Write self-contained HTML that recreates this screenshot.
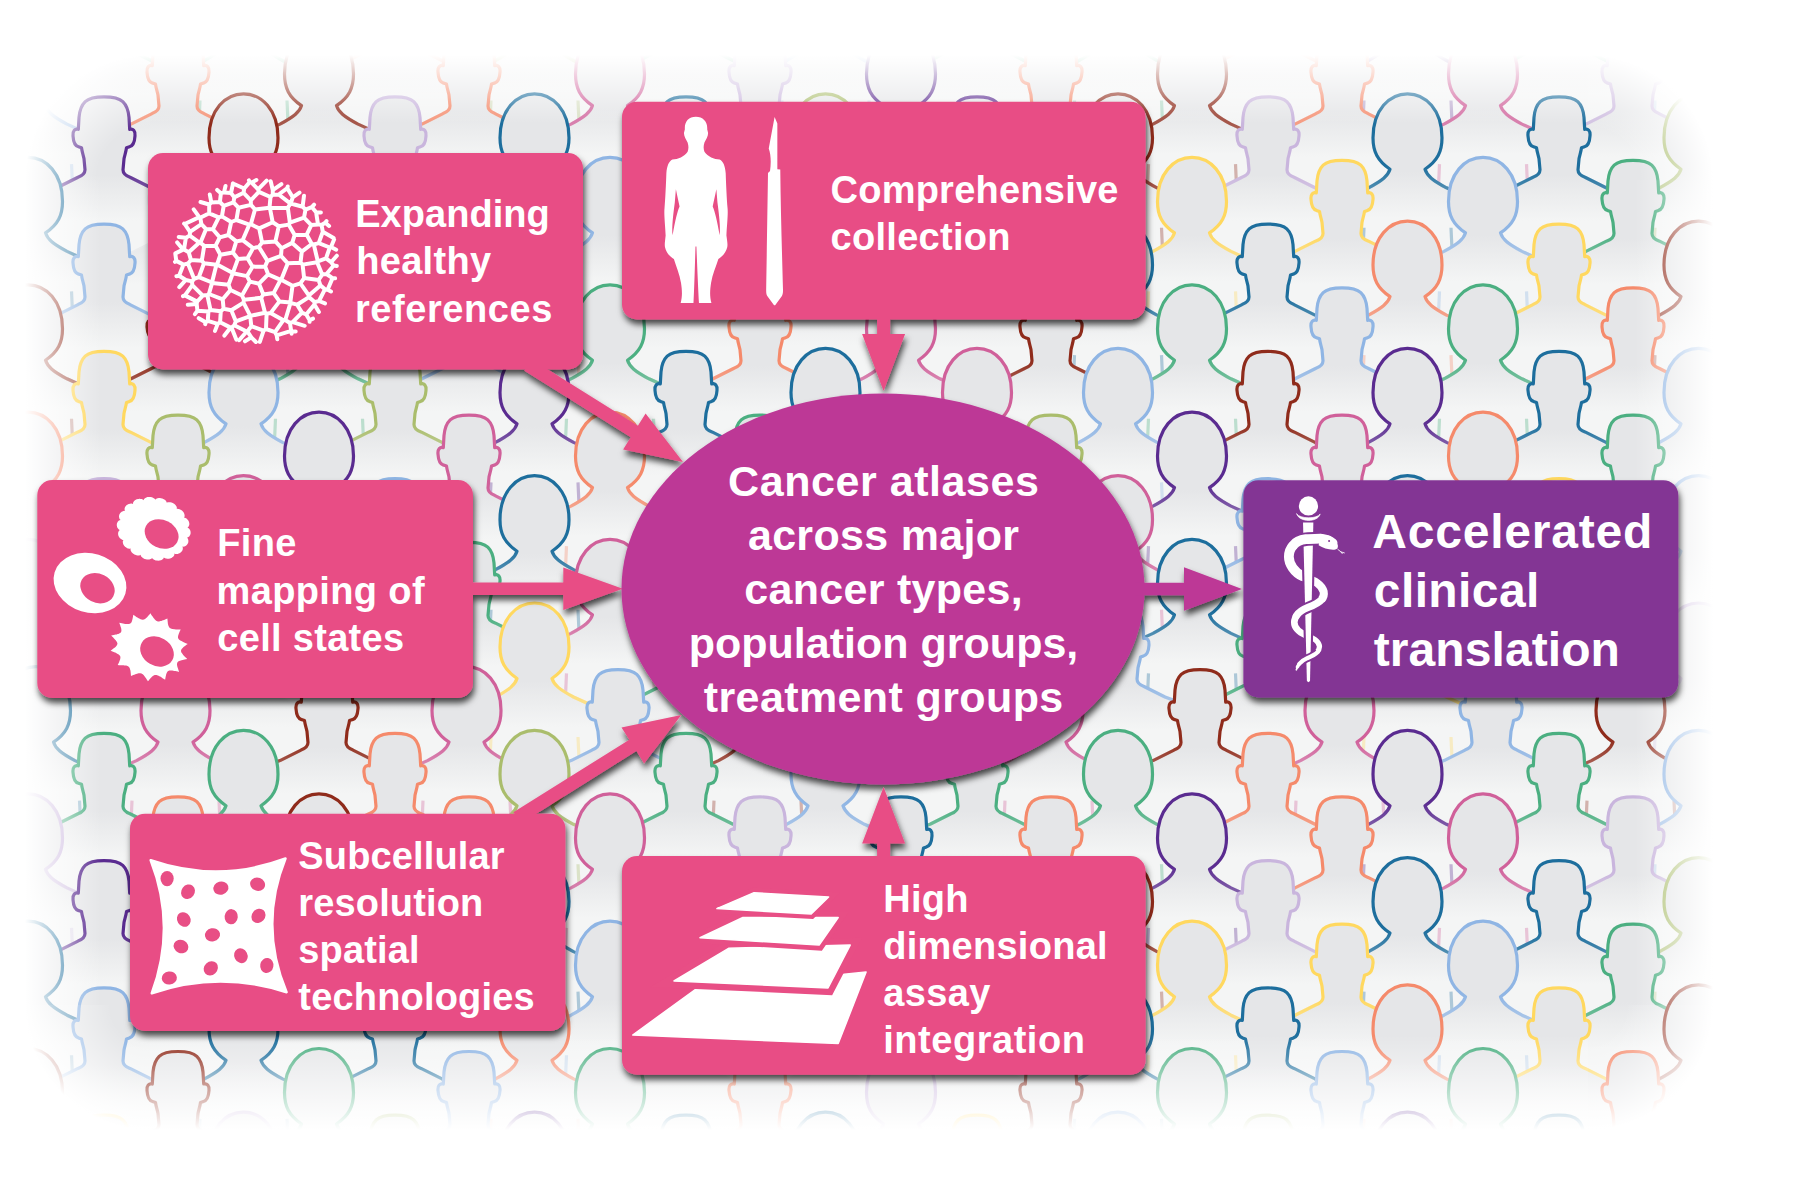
<!DOCTYPE html>
<html><head><meta charset="utf-8"><title>Cancer atlases</title>
<style>
html,body{margin:0;padding:0;background:#fff;}
body{width:1795px;height:1201px;position:relative;overflow:hidden;font-family:"Liberation Sans",sans-serif;}
.t{position:absolute;color:#fff;font-weight:bold;line-height:1;white-space:nowrap;font-family:"Liberation Sans",sans-serif;}
#fade{position:absolute;left:19px;top:49px;width:1700px;height:1088px;border-radius:135px;box-shadow:inset 0 0 36px 38px #fff, 0 0 0 200px #fff;}
</style></head><body>
<svg width="1795" height="1201" viewBox="0 0 1795 1201" style="position:absolute;left:0;top:0">
<defs>
<linearGradient id="bg" gradientUnits="userSpaceOnUse" x1="0" y1="78" x2="0" y2="124">
<stop offset="0" stop-color="#e5e6e8"/><stop offset="1" stop-color="#f4f5f5"/></linearGradient>
<linearGradient id="sf" gradientUnits="userSpaceOnUse" x1="0" y1="72" x2="0" y2="112"><stop offset="0" stop-color="#f4f5f5" stop-opacity="0"/><stop offset="1" stop-color="#f4f5f5" stop-opacity=".4"/></linearGradient>
<g id="M"><path d="M-74.0,101.0L-47.0,91.0L-26.0,80.5C-22.0,79.0 -19.0,77.0 -19.0,73.0L-20.0,62.0C-20.5,59.0 -22.0,55.0 -22.5,51.0L-25.5,50.0C-29.5,49.0 -30.7,44.0 -31.0,39.0C-31.5,34.0 -29.0,31.5 -25.7,32.5L-25.0,20.5C-24.3,13.0 -22.2,8.0 -18.8,4.8C-14.8,1.0 -8.0,0.0 -0.0,0.0C8.0,0.0 14.8,1.0 18.8,4.8C22.2,8.0 24.3,13.0 25.0,20.5L25.7,32.5C29.0,31.5 31.5,34.0 31.0,39.0C30.7,44.0 29.5,49.0 25.5,50.0L22.5,51.0C22.0,55.0 20.5,59.0 20.0,62.0L19.0,73.0C19.0,77.0 22.0,79.0 26.0,80.5L47.0,91.0L74.0,101.0L74,240L-74,240Z" fill="url(#bg)"/><path d="M-74.0,101.0L-47.0,91.0L-26.0,80.5C-22.0,79.0 -19.0,77.0 -19.0,73.0L-20.0,62.0C-20.5,59.0 -22.0,55.0 -22.5,51.0L-25.5,50.0C-29.5,49.0 -30.7,44.0 -31.0,39.0C-31.5,34.0 -29.0,31.5 -25.7,32.5L-25.0,20.5C-24.3,13.0 -22.2,8.0 -18.8,4.8C-14.8,1.0 -8.0,0.0 -0.0,0.0C8.0,0.0 14.8,1.0 18.8,4.8C22.2,8.0 24.3,13.0 25.0,20.5L25.7,32.5C29.0,31.5 31.5,34.0 31.0,39.0C30.7,44.0 29.5,49.0 25.5,50.0L22.5,51.0C22.0,55.0 20.5,59.0 20.0,62.0L19.0,73.0C19.0,77.0 22.0,79.0 26.0,80.5L47.0,91.0L74.0,101.0" fill="none" stroke="currentColor" stroke-width="3.2" stroke-linejoin="round"/><path d="M-74.0,101.0L-47.0,91.0L-26.0,80.5C-22.0,79.0 -19.0,77.0 -19.0,73.0L-20.0,62.0C-20.5,59.0 -22.0,55.0 -22.5,51.0L-25.5,50.0C-29.5,49.0 -30.7,44.0 -31.0,39.0C-31.5,34.0 -29.0,31.5 -25.7,32.5L-25.0,20.5C-24.3,13.0 -22.2,8.0 -18.8,4.8C-14.8,1.0 -8.0,0.0 -0.0,0.0C8.0,0.0 14.8,1.0 18.8,4.8C22.2,8.0 24.3,13.0 25.0,20.5L25.7,32.5C29.0,31.5 31.5,34.0 31.0,39.0C30.7,44.0 29.5,49.0 25.5,50.0L22.5,51.0C22.0,55.0 20.5,59.0 20.0,62.0L19.0,73.0C19.0,77.0 22.0,79.0 26.0,80.5L47.0,91.0L74.0,101.0" fill="none" stroke="url(#sf)" stroke-width="3.4" stroke-linejoin="round"/></g>
<g id="F"><path d="M-72.0,109.0L-39.0,94.0C-25.0,86.5 -19.5,82.0 -17.5,75.5C-30.0,67.0 -34.5,58.0 -34.5,44.0C-34.5,16.0 -18.0,0.0 -0.0,0.0C18.0,0.0 34.5,16.0 34.5,44.0C34.5,58.0 30.0,67.0 17.5,75.5C19.5,82.0 25.0,86.5 39.0,94.0L72.0,109.0L72,240L-72,240Z" fill="url(#bg)"/><path d="M-72.0,109.0L-39.0,94.0C-25.0,86.5 -19.5,82.0 -17.5,75.5C-30.0,67.0 -34.5,58.0 -34.5,44.0C-34.5,16.0 -18.0,0.0 -0.0,0.0C18.0,0.0 34.5,16.0 34.5,44.0C34.5,58.0 30.0,67.0 17.5,75.5C19.5,82.0 25.0,86.5 39.0,94.0L72.0,109.0" fill="none" stroke="currentColor" stroke-width="3.2" stroke-linejoin="round"/><path d="M-72.0,109.0L-39.0,94.0C-25.0,86.5 -19.5,82.0 -17.5,75.5C-30.0,67.0 -34.5,58.0 -34.5,44.0C-34.5,16.0 -18.0,0.0 -0.0,0.0C18.0,0.0 34.5,16.0 34.5,44.0C34.5,58.0 30.0,67.0 17.5,75.5C19.5,82.0 25.0,86.5 39.0,94.0L72.0,109.0" fill="none" stroke="url(#sf)" stroke-width="3.4" stroke-linejoin="round"/><path d="M-43.5,134L-44.5,156M43.5,134L44.5,156" fill="none" stroke="currentColor" stroke-width="3.2" stroke-opacity=".33"/></g>
<filter id="sh" x="-20%" y="-20%" width="140%" height="150%"><feDropShadow dx="1.5" dy="5" stdDeviation="3.2" flood-color="#000" flood-opacity=".7"/></filter>
</defs>
<rect x="20" y="50" width="1700" height="1090" fill="#f4f5f5"/>
<g>
<use href="#M" x="104.0" y="-30.5" color="#4baf81"/>
<use href="#F" x="243.5" y="-33.5" color="#4baf81"/>
<use href="#M" x="395.0" y="-30.5" color="#f58a6b"/>
<use href="#F" x="534.5" y="-33.5" color="#aabd6c"/>
<use href="#M" x="686.0" y="-30.5" color="#4baf81"/>
<use href="#F" x="825.5" y="-33.5" color="#8fb5e4"/>
<use href="#M" x="977.0" y="-30.5" color="#4baf81"/>
<use href="#F" x="1118.0" y="-33.5" color="#4baf81"/>
<use href="#M" x="1268.0" y="-30.5" color="#f58a6b"/>
<use href="#F" x="1407.5" y="-33.5" color="#5a2b90"/>
<use href="#M" x="1559.0" y="-30.5" color="#4baf81"/>
<use href="#F" x="1698.5" y="-33.5" color="#8fb5e4"/>
<use href="#F" x="28.0" y="30.1" color="#8fb5e4"/>
<use href="#M" x="178.0" y="33.1" color="#f58a6b"/>
<use href="#F" x="319.0" y="30.1" color="#8f2b1b"/>
<use href="#M" x="469.0" y="33.1" color="#f58a6b"/>
<use href="#F" x="610.0" y="30.1" color="#d0609a"/>
<use href="#M" x="760.0" y="33.1" color="#c9b5dd"/>
<use href="#F" x="901.0" y="30.1" color="#5a2b90"/>
<use href="#M" x="1051.0" y="33.1" color="#f58a6b"/>
<use href="#F" x="1192.0" y="30.1" color="#8f2b1b"/>
<use href="#M" x="1342.0" y="33.1" color="#f58a6b"/>
<use href="#F" x="1483.0" y="30.1" color="#d0609a"/>
<use href="#M" x="1633.0" y="33.1" color="#c9b5dd"/>
<use href="#M" x="104.0" y="96.8" color="#5a2b90"/>
<use href="#F" x="243.5" y="93.8" color="#8f2b1b"/>
<use href="#M" x="395.0" y="96.8" color="#c9b5dd"/>
<use href="#F" x="534.5" y="93.8" color="#1d6e9d"/>
<use href="#M" x="686.0" y="96.8" color="#1d6e9d"/>
<use href="#F" x="825.5" y="93.8" color="#aabd6c"/>
<use href="#M" x="977.0" y="96.8" color="#5a2b90"/>
<use href="#F" x="1118.0" y="93.8" color="#8f2b1b"/>
<use href="#M" x="1268.0" y="96.8" color="#c9b5dd"/>
<use href="#F" x="1407.5" y="93.8" color="#1d6e9d"/>
<use href="#M" x="1559.0" y="96.8" color="#1d6e9d"/>
<use href="#F" x="1698.5" y="93.8" color="#aabd6c"/>
<use href="#F" x="28.0" y="157.4" color="#1d6e9d"/>
<use href="#M" x="178.0" y="160.4" color="transparent"/>
<use href="#F" x="319.0" y="157.4" color="transparent"/>
<use href="#M" x="469.0" y="160.4" color="transparent"/>
<use href="#F" x="610.0" y="157.4" color="#8fb5e4"/>
<use href="#M" x="760.0" y="160.4" color="transparent"/>
<use href="#F" x="901.0" y="157.4" color="transparent"/>
<use href="#M" x="1051.0" y="160.4" color="transparent"/>
<use href="#F" x="1192.0" y="157.4" color="#ffd85f"/>
<use href="#M" x="1342.0" y="160.4" color="#ffd85f"/>
<use href="#F" x="1483.0" y="157.4" color="#8fb5e4"/>
<use href="#M" x="1633.0" y="160.4" color="#4baf81"/>
<use href="#M" x="104.0" y="224.1" color="#8fb5e4"/>
<use href="#F" x="243.5" y="221.1" color="#1d6e9d"/>
<use href="#M" x="395.0" y="224.1" color="#1d6e9d"/>
<use href="#F" x="534.5" y="221.1" color="#f58a6b"/>
<use href="#M" x="686.0" y="224.1" color="transparent"/>
<use href="#F" x="825.5" y="221.1" color="transparent"/>
<use href="#M" x="977.0" y="224.1" color="transparent"/>
<use href="#F" x="1118.0" y="221.1" color="#1d6e9d"/>
<use href="#M" x="1268.0" y="224.1" color="#1d6e9d"/>
<use href="#F" x="1407.5" y="221.1" color="#f58a6b"/>
<use href="#M" x="1559.0" y="224.1" color="#ffd85f"/>
<use href="#F" x="1698.5" y="221.1" color="#8f2b1b"/>
<use href="#F" x="28.0" y="284.8" color="#8f2b1b"/>
<use href="#M" x="178.0" y="287.8" color="#8f2b1b"/>
<use href="#F" x="319.0" y="284.8" color="#4baf81"/>
<use href="#M" x="469.0" y="287.8" color="#8fb5e4"/>
<use href="#F" x="610.0" y="284.8" color="#4baf81"/>
<use href="#M" x="760.0" y="287.8" color="#f58a6b"/>
<use href="#F" x="901.0" y="284.8" color="#d0609a"/>
<use href="#M" x="1051.0" y="287.8" color="#8f2b1b"/>
<use href="#F" x="1192.0" y="284.8" color="#4baf81"/>
<use href="#M" x="1342.0" y="287.8" color="#8fb5e4"/>
<use href="#F" x="1483.0" y="284.8" color="#4baf81"/>
<use href="#M" x="1633.0" y="287.8" color="#f58a6b"/>
<use href="#M" x="104.0" y="351.4" color="#ffd85f"/>
<use href="#F" x="243.5" y="348.4" color="#8fb5e4"/>
<use href="#M" x="395.0" y="351.4" color="#aabd6c"/>
<use href="#F" x="534.5" y="348.4" color="#5a2b90"/>
<use href="#M" x="686.0" y="351.4" color="#1d6e9d"/>
<use href="#F" x="825.5" y="348.4" color="#1d6e9d"/>
<use href="#F" x="977.0" y="348.4" color="#d0609a"/>
<use href="#F" x="1118.0" y="348.4" color="#8fb5e4"/>
<use href="#M" x="1268.0" y="351.4" color="#8f2b1b"/>
<use href="#F" x="1407.5" y="348.4" color="#5a2b90"/>
<use href="#M" x="1559.0" y="351.4" color="#1d6e9d"/>
<use href="#F" x="1698.5" y="348.4" color="#8fb5e4"/>
<use href="#F" x="28.0" y="412.1" color="#f58a6b"/>
<use href="#M" x="178.0" y="415.1" color="#aabd6c"/>
<use href="#F" x="319.0" y="412.1" color="#5a2b90"/>
<use href="#M" x="469.0" y="415.1" color="#d0609a"/>
<use href="#F" x="610.0" y="412.1" color="#f58a6b"/>
<use href="#M" x="760.0" y="415.1" color="#4baf81"/>
<use href="#F" x="901.0" y="412.1" color="transparent"/>
<use href="#M" x="1051.0" y="415.1" color="#aabd6c"/>
<use href="#F" x="1192.0" y="412.1" color="#5a2b90"/>
<use href="#M" x="1342.0" y="415.1" color="#d0609a"/>
<use href="#F" x="1483.0" y="412.1" color="#f58a6b"/>
<use href="#M" x="1633.0" y="415.1" color="#4baf81"/>
<use href="#M" x="104.0" y="478.7" color="#c9b5dd"/>
<use href="#F" x="243.5" y="475.7" color="#d0609a"/>
<use href="#M" x="395.0" y="478.7" color="#8fb5e4"/>
<use href="#F" x="534.5" y="475.7" color="#1d6e9d"/>
<use href="#M" x="686.0" y="478.7" color="transparent"/>
<use href="#F" x="825.5" y="475.7" color="transparent"/>
<use href="#M" x="977.0" y="478.7" color="transparent"/>
<use href="#F" x="1118.0" y="475.7" color="#d0609a"/>
<use href="#M" x="1268.0" y="478.7" color="#8fb5e4"/>
<use href="#F" x="1407.5" y="475.7" color="#1d6e9d"/>
<use href="#M" x="1559.0" y="478.7" color="#ffd85f"/>
<use href="#F" x="1698.5" y="475.7" color="#8fb5e4"/>
<use href="#F" x="28.0" y="539.4" color="#c9b5dd"/>
<use href="#M" x="178.0" y="542.4" color="transparent"/>
<use href="#F" x="319.0" y="539.4" color="transparent"/>
<use href="#M" x="469.0" y="542.4" color="#4baf81"/>
<use href="#F" x="610.0" y="539.4" color="#d0609a"/>
<use href="#M" x="760.0" y="542.4" color="transparent"/>
<use href="#F" x="901.0" y="539.4" color="transparent"/>
<use href="#M" x="1051.0" y="542.4" color="transparent"/>
<use href="#F" x="1192.0" y="539.4" color="#1d6e9d"/>
<use href="#M" x="1342.0" y="542.4" color="transparent"/>
<use href="#F" x="1483.0" y="539.4" color="transparent"/>
<use href="#M" x="1633.0" y="542.4" color="transparent"/>
<use href="#M" x="104.0" y="606.0" color="transparent"/>
<use href="#F" x="243.5" y="603.0" color="transparent"/>
<use href="#M" x="395.0" y="606.0" color="transparent"/>
<use href="#F" x="534.5" y="603.0" color="#ffd85f"/>
<use href="#M" x="686.0" y="606.0" color="#4baf81"/>
<use href="#F" x="825.5" y="603.0" color="transparent"/>
<use href="#M" x="977.0" y="606.0" color="transparent"/>
<use href="#M" x="1118.0" y="606.0" color="#8fb5e4"/>
<use href="#M" x="1268.0" y="606.0" color="#4baf81"/>
<use href="#F" x="1407.5" y="603.0" color="#ffd85f"/>
<use href="#M" x="1559.0" y="606.0" color="transparent"/>
<use href="#F" x="1698.5" y="603.0" color="#c9b5dd"/>
<use href="#F" x="36.0" y="666.6" color="#1d6e9d"/>
<use href="#F" x="175.5" y="666.6" color="#d0609a"/>
<use href="#M" x="327.0" y="669.6" color="#8f2b1b"/>
<use href="#F" x="466.5" y="666.6" color="#d0609a"/>
<use href="#M" x="618.0" y="669.6" color="#8fb5e4"/>
<use href="#F" x="757.5" y="666.6" color="#8f2b1b"/>
<use href="#M" x="909.0" y="669.6" color="#4baf81"/>
<use href="#F" x="1048.5" y="666.6" color="#d0609a"/>
<use href="#M" x="1200.0" y="669.6" color="#8f2b1b"/>
<use href="#F" x="1339.5" y="666.6" color="#d0609a"/>
<use href="#M" x="1491.0" y="669.6" color="#8fb5e4"/>
<use href="#F" x="1630.5" y="666.6" color="#8f2b1b"/>
<use href="#M" x="104.0" y="733.3" color="#4baf81"/>
<use href="#F" x="243.5" y="730.3" color="#4baf81"/>
<use href="#M" x="395.0" y="733.3" color="#f58a6b"/>
<use href="#F" x="534.5" y="730.3" color="#aabd6c"/>
<use href="#M" x="686.0" y="733.3" color="#4baf81"/>
<use href="#F" x="825.5" y="730.3" color="#8fb5e4"/>
<use href="#M" x="977.0" y="733.3" color="#4baf81"/>
<use href="#F" x="1118.0" y="730.3" color="#4baf81"/>
<use href="#M" x="1268.0" y="733.3" color="#f58a6b"/>
<use href="#F" x="1407.5" y="730.3" color="#5a2b90"/>
<use href="#M" x="1559.0" y="733.3" color="#4baf81"/>
<use href="#F" x="1698.5" y="730.3" color="#8fb5e4"/>
<use href="#F" x="28.0" y="793.9" color="#c9b5dd"/>
<use href="#M" x="178.0" y="796.9" color="#f58a6b"/>
<use href="#F" x="319.0" y="793.9" color="#8f2b1b"/>
<use href="#M" x="469.0" y="796.9" color="#f58a6b"/>
<use href="#F" x="610.0" y="793.9" color="#d0609a"/>
<use href="#M" x="760.0" y="796.9" color="#c9b5dd"/>
<use href="#M" x="901.0" y="796.9" color="#1d6e9d"/>
<use href="#M" x="1051.0" y="796.9" color="#f58a6b"/>
<use href="#F" x="1192.0" y="793.9" color="#5a2b90"/>
<use href="#M" x="1342.0" y="796.9" color="#f58a6b"/>
<use href="#F" x="1483.0" y="793.9" color="#d0609a"/>
<use href="#M" x="1633.0" y="796.9" color="#c9b5dd"/>
<use href="#M" x="104.0" y="860.6" color="#5a2b90"/>
<use href="#F" x="243.5" y="857.6" color="#8f2b1b"/>
<use href="#M" x="395.0" y="860.6" color="#c9b5dd"/>
<use href="#F" x="534.5" y="857.6" color="#1d6e9d"/>
<use href="#M" x="686.0" y="860.6" color="#1d6e9d"/>
<use href="#F" x="825.5" y="857.6" color="#aabd6c"/>
<use href="#M" x="977.0" y="860.6" color="#5a2b90"/>
<use href="#F" x="1118.0" y="857.6" color="#8f2b1b"/>
<use href="#M" x="1268.0" y="860.6" color="#c9b5dd"/>
<use href="#F" x="1407.5" y="857.6" color="#1d6e9d"/>
<use href="#M" x="1559.0" y="860.6" color="#1d6e9d"/>
<use href="#F" x="1698.5" y="857.6" color="#aabd6c"/>
<use href="#F" x="28.0" y="921.2" color="#1d6e9d"/>
<use href="#M" x="178.0" y="924.2" color="transparent"/>
<use href="#F" x="319.0" y="921.2" color="transparent"/>
<use href="#M" x="469.0" y="924.2" color="transparent"/>
<use href="#F" x="610.0" y="921.2" color="#8fb5e4"/>
<use href="#M" x="760.0" y="924.2" color="transparent"/>
<use href="#F" x="901.0" y="921.2" color="transparent"/>
<use href="#M" x="1051.0" y="924.2" color="transparent"/>
<use href="#F" x="1192.0" y="921.2" color="#ffd85f"/>
<use href="#M" x="1342.0" y="924.2" color="#ffd85f"/>
<use href="#F" x="1483.0" y="921.2" color="#8fb5e4"/>
<use href="#M" x="1633.0" y="924.2" color="#4baf81"/>
<use href="#M" x="104.0" y="987.9" color="#8fb5e4"/>
<use href="#F" x="243.5" y="984.9" color="#1d6e9d"/>
<use href="#M" x="395.0" y="987.9" color="#1d6e9d"/>
<use href="#F" x="534.5" y="984.9" color="#f58a6b"/>
<use href="#M" x="686.0" y="987.9" color="transparent"/>
<use href="#F" x="825.5" y="984.9" color="transparent"/>
<use href="#M" x="977.0" y="987.9" color="transparent"/>
<use href="#F" x="1118.0" y="984.9" color="#1d6e9d"/>
<use href="#M" x="1268.0" y="987.9" color="#1d6e9d"/>
<use href="#F" x="1407.5" y="984.9" color="#f58a6b"/>
<use href="#M" x="1559.0" y="987.9" color="#ffd85f"/>
<use href="#F" x="1698.5" y="984.9" color="#8f2b1b"/>
<use href="#F" x="28.0" y="1048.5" color="#8f2b1b"/>
<use href="#M" x="178.0" y="1051.5" color="#8f2b1b"/>
<use href="#F" x="319.0" y="1048.5" color="#4baf81"/>
<use href="#M" x="469.0" y="1051.5" color="#8fb5e4"/>
<use href="#F" x="610.0" y="1048.5" color="#4baf81"/>
<use href="#M" x="760.0" y="1051.5" color="#f58a6b"/>
<use href="#F" x="901.0" y="1048.5" color="#c9b5dd"/>
<use href="#M" x="1051.0" y="1051.5" color="#8f2b1b"/>
<use href="#F" x="1192.0" y="1048.5" color="#4baf81"/>
<use href="#M" x="1342.0" y="1051.5" color="#8fb5e4"/>
<use href="#F" x="1483.0" y="1048.5" color="#4baf81"/>
<use href="#M" x="1633.0" y="1051.5" color="#f58a6b"/>
<use href="#M" x="104.0" y="1115.2" color="#ffd85f"/>
<use href="#F" x="243.5" y="1112.2" color="#c9b5dd"/>
<use href="#M" x="395.0" y="1115.2" color="#aabd6c"/>
<use href="#F" x="534.5" y="1112.2" color="#5a2b90"/>
<use href="#M" x="686.0" y="1115.2" color="#1d6e9d"/>
<use href="#F" x="825.5" y="1112.2" color="#1d6e9d"/>
<use href="#M" x="977.0" y="1115.2" color="#ffd85f"/>
<use href="#F" x="1118.0" y="1112.2" color="#8fb5e4"/>
<use href="#M" x="1268.0" y="1115.2" color="#aabd6c"/>
<use href="#F" x="1407.5" y="1112.2" color="#5a2b90"/>
<use href="#M" x="1559.0" y="1115.2" color="#1d6e9d"/>
<use href="#F" x="1698.5" y="1112.2" color="#8fb5e4"/>
<use href="#F" x="28.0" y="1175.8" color="#f58a6b"/>
<use href="#M" x="178.0" y="1178.8" color="#aabd6c"/>
<use href="#F" x="319.0" y="1175.8" color="#5a2b90"/>
<use href="#M" x="469.0" y="1178.8" color="#d0609a"/>
<use href="#F" x="610.0" y="1175.8" color="#f58a6b"/>
<use href="#M" x="760.0" y="1178.8" color="#4baf81"/>
<use href="#F" x="901.0" y="1175.8" color="transparent"/>
<use href="#M" x="1051.0" y="1178.8" color="#aabd6c"/>
<use href="#F" x="1192.0" y="1175.8" color="#5a2b90"/>
<use href="#M" x="1342.0" y="1178.8" color="#d0609a"/>
<use href="#F" x="1483.0" y="1175.8" color="#f58a6b"/>
<use href="#M" x="1633.0" y="1178.8" color="#4baf81"/>
</g>
</svg>
<svg width="1795" height="1201" viewBox="0 0 1795 1201" style="position:absolute;left:0;top:0"><defs><linearGradient id="ft" x1="0" y1="0" x2="0" y2="1"><stop offset="0" stop-color="#fff" stop-opacity="1"/><stop offset="1" stop-color="#fff" stop-opacity="0"/></linearGradient><linearGradient id="fb" x1="0" y1="1" x2="0" y2="0"><stop offset="0" stop-color="#fff" stop-opacity="1"/><stop offset="1" stop-color="#fff" stop-opacity="0"/></linearGradient><linearGradient id="fl" x1="0" y1="0" x2="1" y2="0"><stop offset="0" stop-color="#fff" stop-opacity="1"/><stop offset="1" stop-color="#fff" stop-opacity="0"/></linearGradient><linearGradient id="fr" x1="1" y1="0" x2="0" y2="0"><stop offset="0" stop-color="#fff" stop-opacity="1"/><stop offset="1" stop-color="#fff" stop-opacity="0"/></linearGradient><radialGradient id="ctl" gradientUnits="userSpaceOnUse" cx="150" cy="180" r="125"><stop offset="0.4240" stop-color="#fff" stop-opacity="0"/><stop offset="1" stop-color="#fff" stop-opacity="1"/></radialGradient><radialGradient id="ctr" gradientUnits="userSpaceOnUse" cx="1588" cy="180" r="125"><stop offset="0.4160" stop-color="#fff" stop-opacity="0"/><stop offset="1" stop-color="#fff" stop-opacity="1"/></radialGradient><radialGradient id="cbl" gradientUnits="userSpaceOnUse" cx="150" cy="1005" r="125"><stop offset="0.3160" stop-color="#fff" stop-opacity="0"/><stop offset="1" stop-color="#fff" stop-opacity="1"/></radialGradient><radialGradient id="cbr" gradientUnits="userSpaceOnUse" cx="1588" cy="1005" r="125"><stop offset="0.3080" stop-color="#fff" stop-opacity="0"/><stop offset="1" stop-color="#fff" stop-opacity="1"/></radialGradient></defs><path d="M0,0H1795V1201H0ZM150,55H1588A125,125 0 0 1 1713,180V1005A125,125 0 0 1 1588,1130H150A125,125 0 0 1 25,1005V180A125,125 0 0 1 150,55Z" fill="#fff" fill-rule="evenodd"/><rect x="150" y="55" width="1438" height="68" fill="url(#ft)"/><rect x="150" y="1035" width="1438" height="95" fill="url(#fb)"/><rect x="25" y="180" width="76" height="825" fill="url(#fl)"/><rect x="1635" y="180" width="78" height="825" fill="url(#fr)"/><rect x="25" y="55" width="125" height="125" fill="url(#ctl)"/><rect x="1588" y="55" width="125" height="125" fill="url(#ctr)"/><rect x="25" y="1005" width="125" height="125" fill="url(#cbl)"/><rect x="1588" y="1005" width="125" height="125" fill="url(#cbr)"/></svg>
<svg width="1795" height="1201" viewBox="0 0 1795 1201" style="position:absolute;left:0;top:0">
<g filter="url(#sh)">
<polygon points="524.4,370.7 630.8,437.3 623.1,449.6 683.0,462.0 645.6,413.5 637.9,425.8 531.6,359.3" fill="#e84e85"/>
<polygon points="877.1,310.0 877.1,334.0 862.1,334.0 883.6,391.0 905.1,334.0 890.1,334.0 890.1,310.0" fill="#e84e85"/>
<polygon points="465.0,595.0 563.3,595.0 563.3,610.0 622.8,588.8 563.3,567.5 563.3,582.5 465.0,582.5" fill="#e84e85"/>
<polygon points="520.6,823.7 636.4,751.1 644.1,763.4 681.3,715.0 621.5,727.4 629.3,739.7 513.4,812.3" fill="#e84e85"/>
<polygon points="890.1,865.0 890.1,843.5 905.1,843.5 883.6,787.0 862.1,843.5 877.1,843.5 877.1,865.0" fill="#e84e85"/>
<rect x="148" y="153" width="435" height="216.5" rx="15" ry="15" fill="#e84e85"/>
<rect x="622" y="101.8" width="523.5999999999999" height="217.7" rx="15" ry="15" fill="#e84e85"/>
<rect x="37.3" y="480" width="435.7" height="218" rx="15" ry="15" fill="#e84e85"/>
<rect x="130" y="813.7" width="435.4" height="217.29999999999995" rx="15" ry="15" fill="#e84e85"/>
<rect x="622" y="856" width="523.5999999999999" height="218.70000000000005" rx="15" ry="15" fill="#e84e85"/>
<ellipse cx="883" cy="589" rx="261.5" ry="195.5" fill="#bd3996"/>
<polygon points="1135.0,595.2 1184.0,595.2 1184.0,610.8 1242.0,589.0 1184.0,567.2 1184.0,582.8 1135.0,582.8" fill="#bd3996"/>
<rect x="1243.4" y="480.2" width="434.89999999999986" height="217.2" rx="15" ry="15" fill="#833594"/>
</g>
<path d="M250.2,316.1L251.3,326.2M250.2,316.1L250.3,315.9M251.3,326.2L263.6,330.6M250.3,315.9L265.0,312.7M265.0,312.7L266.6,313.7M263.6,330.6L266.0,329.0M266.6,313.7L266.0,329.0M212.0,282.5L198.8,277.2M212.0,282.5L216.4,264.8M198.8,277.2L204.0,263.2M216.4,264.8L204.0,263.2M191.0,260.1L187.9,263.5M191.0,260.1L201.8,260.8M201.8,260.8L204.0,263.2M187.9,263.5L194.2,278.9M194.2,278.9L198.8,277.2M279.5,301.4L290.3,302.6M279.5,301.4L273.6,293.1M290.3,302.6L292.5,285.8M273.6,293.1L280.6,279.9M280.6,279.9L281.2,279.7M281.2,279.7L292.5,285.8M228.5,284.7L232.8,273.2M228.5,284.7L212.1,282.9M212.1,282.9L212.0,282.5M217.1,264.5L232.8,273.1M217.1,264.5L216.4,264.8M232.8,273.2L232.8,273.1M294.7,234.9L292.2,242.9M294.7,234.9L306.7,234.7M311.8,244.0L306.7,234.7M311.8,244.0L301.8,251.6M292.2,242.9L301.8,251.6M302.6,264.6L300.5,262.8M302.6,264.6L304.1,278.1M304.1,278.1L300.4,283.4M300.4,283.4L292.5,285.8M281.2,279.7L287.8,263.3M287.8,263.3L300.5,262.8M249.7,182.1L248.9,180.3M249.7,182.1L244.2,188.5M244.2,188.5L233.0,183.5M233.0,183.5L232.9,183.4M308.8,295.4L320.4,285.4M308.8,295.4L308.9,297.1M308.9,297.1L314.6,302.1M325.0,289.2L320.4,285.4M325.0,289.2L319.0,301.0M319.0,301.0L314.6,302.1M318.6,280.0L320.4,285.4M318.6,280.0L304.1,278.1M300.4,283.4L308.8,295.4M327.6,289.7L331.0,291.5M327.6,289.7L325.0,289.2M319.0,301.0L325.0,303.4M290.3,302.6L290.5,302.8M308.9,297.1L297.1,304.7M290.5,302.8L297.1,304.7M228.5,284.7L230.5,290.0M212.1,282.9L208.9,294.0M230.5,290.0L222.7,299.3M222.7,299.3L208.9,294.0M183.1,249.6L177.2,242.4M183.1,249.6L175.4,253.4M185.9,237.7L178.7,236.9M185.9,237.7L184.0,249.5M184.0,249.5L183.1,249.6M191.0,260.1L188.7,252.2M176.3,260.9L175.3,253.7M176.3,260.9L183.5,264.6M183.5,264.6L187.9,263.5M188.7,252.2L184.0,249.5M176.3,260.9L175.0,261.8M250.3,315.9L243.5,302.6M265.0,312.7L261.2,297.8M243.5,302.6L244.0,299.8M244.0,299.8L261.2,297.8M279.5,301.4L270.5,313.1M266.6,313.7L270.5,313.1M273.6,293.1L263.3,294.5M261.2,297.8L263.3,294.5M179.1,275.7L185.8,280.0M179.1,275.7L176.4,276.2M185.8,280.0L179.3,287.1M183.5,264.6L179.1,275.7M194.2,278.9L192.0,281.4M192.0,281.4L185.8,280.0M184.9,295.4L183.0,296.2M192.0,281.4L192.3,285.2M184.9,295.4L192.3,285.2M325.2,222.7L326.5,221.1M325.2,222.7L329.1,226.0M325.2,222.7L321.6,225.0M321.6,225.0L322.8,231.8M322.8,231.8L333.6,237.9M327.6,289.7L332.5,278.1M332.5,278.1L335.1,278.3M311.8,207.1L305.5,209.6M311.8,207.1L316.1,212.3M305.5,209.6L304.0,217.6M316.1,212.3L318.0,224.4M304.0,217.6L311.3,225.1M318.0,224.4L311.3,225.1M311.8,207.1L314.1,204.6M302.6,206.7L304.0,195.7M302.6,206.7L305.5,209.6M316.1,212.3L320.9,212.5M321.6,225.0L318.0,224.4M288.6,224.6L294.7,234.9M288.6,224.6L289.9,222.7M306.7,234.7L311.3,225.1M289.9,222.7L304.0,217.6M311.8,244.0L313.8,244.5M322.8,231.8L318.7,243.1M313.8,244.5L318.7,243.1M258.8,246.9L262.1,242.6M258.8,246.9L267.5,260.9M262.1,242.6L275.4,241.4M267.5,260.9L281.0,255.9M275.4,241.4L281.6,248.2M281.0,255.9L281.6,248.2M272.7,222.3L278.8,226.2M272.7,222.3L259.2,228.4M278.8,226.2L275.4,241.4M259.2,228.4L262.1,242.6M288.6,224.6L278.8,226.2M292.2,242.9L281.6,248.2M287.8,263.3L281.0,255.9M301.8,251.6L300.5,262.8M302.6,206.7L290.8,203.5M290.8,203.5L292.7,197.3M292.7,197.3L299.5,192.7M289.9,222.7L287.8,207.7M290.8,203.5L290.5,203.7M287.8,207.7L290.5,203.7M272.7,222.3L269.9,208.1M287.8,207.7L269.9,208.1M250.8,224.3L255.0,209.5M250.8,224.3L259.2,228.4M255.0,209.5L269.5,207.7M269.9,208.1L269.5,207.7M255.0,209.5L250.9,204.9M250.9,204.9L250.8,200.3M250.8,200.3L258.9,191.8M269.5,207.7L270.5,197.0M258.9,191.8L270.5,197.0M253.1,248.1L242.6,240.2M253.1,248.1L258.8,246.9M250.8,224.3L249.3,224.7M242.6,240.2L249.3,224.7M250.9,204.9L238.5,207.7M249.3,224.7L236.4,220.0M238.5,207.7L236.4,220.0M314.4,304.4L318.9,312.0M309.7,320.2L313.0,318.6M314.4,304.4L306.2,314.5M309.7,320.2L306.2,314.5M314.6,302.1L314.4,304.4M297.1,304.7L302.0,312.6M302.0,312.6L306.2,314.5M184.9,295.4L197.1,301.6M192.3,285.2L202.8,295.6M197.1,301.6L202.8,295.6M196.7,303.9L187.8,304.7M197.1,301.6L196.7,303.9M208.9,294.0L207.3,295.1M202.8,295.6L207.3,295.1M302.0,312.6L292.6,322.2M309.7,320.2L309.6,321.8M292.6,322.2L304.7,325.8M291.6,331.6L291.6,333.7M291.6,331.6L295.7,331.6M275.0,332.1L283.4,320.2M275.0,332.1L276.7,335.4M276.7,335.4L291.2,330.9M283.4,320.2L285.3,320.0M285.3,320.0L289.9,323.0M289.9,323.0L291.2,330.9M270.5,313.1L283.4,320.2M266.0,329.0L275.0,332.1M290.5,302.8L285.3,320.0M292.6,322.2L289.9,323.0M291.6,331.6L291.2,330.9M259.0,283.7L249.9,281.6M259.0,283.7L268.1,274.3M252.5,266.7L247.0,276.1M252.5,266.7L265.1,266.4M247.0,276.1L249.9,281.6M265.1,266.4L268.1,274.3M242.0,295.5L244.0,299.8M242.0,295.5L249.9,281.6M263.3,294.5L259.0,283.7M280.6,279.9L268.1,274.3M232.8,273.2L247.0,276.1M232.8,273.1L238.0,258.9M247.5,258.2L238.0,258.9M247.5,258.2L252.5,266.7M253.1,248.1L247.5,258.2M267.5,260.9L265.1,266.4M230.5,290.0L242.0,295.5M251.3,337.4L245.0,341.3M251.3,337.4L255.9,342.0M263.6,330.6L259.8,341.9M276.7,335.4L277.3,339.2M251.3,326.2L247.4,331.4M247.4,331.4L251.3,337.4M333.7,265.5L336.8,266.0M332.5,278.1L326.5,274.0M333.7,265.5L326.5,274.0M318.6,280.0L322.2,274.6M322.2,274.6L326.5,274.0M302.6,264.6L317.1,262.2M322.2,274.6L317.1,262.2M313.8,244.5L317.8,261.4M317.1,262.2L317.8,261.4M331.0,247.0L329.8,247.5M331.0,247.0L336.2,249.7M329.8,247.5L326.0,258.3M331.1,262.2L336.8,255.7M331.1,262.2L326.0,258.3M331.0,247.0L334.1,239.6M318.7,243.1L329.8,247.5M317.8,261.4L326.0,258.3M333.7,265.5L331.1,262.2M185.9,237.7L189.8,235.6M188.7,252.2L199.4,242.6M199.4,242.6L189.8,235.6M201.8,260.8L204.2,245.9M204.2,245.9L200.4,242.7M199.4,242.6L200.4,242.7M184.7,224.0L184.1,223.6M184.7,224.0L190.0,231.9M190.0,231.9L189.8,235.6M219.8,237.4L215.6,245.7M219.8,237.4L228.4,235.0M232.9,252.5L220.4,254.7M232.9,252.5L236.3,241.4M220.4,254.7L215.6,245.7M236.3,241.4L228.4,235.0M217.1,264.5L220.4,254.7M238.0,258.9L232.9,252.5M242.6,240.2L236.3,241.4M204.2,245.9L215.6,245.7M236.4,220.0L231.2,222.0M231.2,222.0L228.4,235.0M220.9,193.2L219.9,202.0M220.9,193.2L224.0,192.4M224.0,192.4L231.0,193.0M219.9,202.0L223.7,205.9M223.7,205.9L233.5,202.3M231.0,193.0L234.3,197.4M234.3,197.4L233.5,202.3M220.9,193.2L217.2,189.9M211.3,202.5L209.8,194.5M211.3,202.5L219.9,202.0M224.0,192.4L225.5,186.0M233.0,183.5L231.0,193.0M238.5,207.7L233.5,202.3M231.2,222.0L221.9,216.4M221.9,216.4L223.7,205.9M243.6,192.8L244.2,188.5M243.6,192.8L234.3,197.4M250.8,200.3L243.6,192.8M250.2,316.1L235.8,321.3M247.4,331.4L246.7,331.5M246.7,331.5L234.3,325.3M235.8,321.3L234.3,325.3M243.5,302.6L231.3,310.3M235.8,321.3L231.3,310.3M222.7,299.3L223.6,308.8M231.3,310.3L223.6,308.8M207.3,295.1L210.5,309.9M210.5,309.9L220.8,311.2M223.6,308.8L220.8,311.2M208.4,311.4L197.4,310.8M208.4,311.4L207.8,320.8M205.7,322.3L198.7,318.2M205.7,322.3L207.8,320.8M197.4,310.8L194.9,314.1M196.7,303.9L197.4,310.8M210.5,309.9L208.4,311.4M217.7,323.9L220.1,322.2M217.7,323.9L207.8,320.8M220.1,322.2L220.8,311.2M205.7,322.3L205.2,324.1M217.7,323.9L215.0,330.9M230.6,327.6L224.4,335.6M231.5,327.5L236.3,339.6M230.6,327.6L231.5,327.5M220.1,322.2L230.6,327.6M246.7,331.5L239.1,340.2M234.3,325.3L231.5,327.5M287.3,188.2L287.7,186.5M287.3,188.2L278.7,194.5M278.7,194.5L272.7,194.7M272.8,190.2L281.4,184.1M272.7,194.7L272.8,190.2M292.7,197.3L287.3,188.2M290.5,203.7L278.7,194.5M270.5,197.0L272.7,194.7M258.1,189.3L266.6,180.7M251.5,182.7L258.1,189.3M251.5,182.7L256.4,180.0M272.8,190.2L270.7,181.3M258.9,191.8L258.1,189.3M249.7,182.1L251.5,182.7M211.3,202.5L209.2,204.5M209.2,204.5L200.5,202.0M184.7,224.0L199.3,217.1M199.3,217.1L193.7,209.3M212.8,229.3L206.1,229.1M212.8,229.3L218.8,217.4M206.1,229.1L201.4,224.1M218.8,217.4L209.2,213.3M209.2,213.3L200.3,217.8M201.4,224.1L200.3,217.8M200.4,242.7L206.1,229.1M219.8,237.4L212.8,229.3M221.9,216.4L218.8,217.4M190.0,231.9L201.4,224.1M209.2,204.5L209.2,213.3M199.3,217.1L200.3,217.8" fill="none" stroke="#fff" stroke-width="4.0" stroke-linecap="round"/>
<g transform="translate(640,100) scale(0.18312)"><path d="M305,92 C345,92 370,120 367,160 L372,180 C372,200 360,215 352,232 C346,250 346,268 352,282 C370,310 405,322 435,325 C455,335 465,360 468,400 C470,460 474,540 478,590 C482,620 474,690 472,740 C476,770 480,790 476,805 C470,830 450,855 428,868 C415,910 396,950 388,1000 C382,1040 380,1070 390,1108 L322,1108 C318,1040 312,900 308,800 L303,800 C300,900 296,1040 292,1108 L222,1108 C232,1070 230,1040 224,1000 C216,950 198,910 185,868 C162,855 142,830 137,805 C133,790 137,770 140,740 C138,690 130,620 134,590 C138,540 142,460 144,400 C147,360 157,335 177,325 C207,322 242,310 260,282 C266,268 266,250 260,232 C252,215 240,200 240,180 L245,160 C242,120 265,92 305,92 Z" fill="#fff"/><path d="M196,488 C204,530 212,560 216,582 C204,610 192,660 178,738 C172,700 182,620 190,560 ZM417,488 C409,530 401,560 397,582 C409,610 421,660 435,738 C441,700 431,620 423,560 Z" fill="#e84e85"/><path d="M735,93 L750,128 L750,378 L766,380 C768,600 776,850 781,1040 C781,1055 778,1065 774,1072 L738,1121 L732,1121 L696,1072 C691,1065 689,1055 689,1040 C692,850 696,600 699,398 L710,388 C716,350 716,300 703,265 Z" fill="#fff"/></g>
<path d="M186.8,537.6L187.6,538.3L187.9,538.8L188.1,539.3L188.2,539.8L188.3,540.3L188.4,540.8L188.4,541.3L188.3,541.8L188.3,542.2L188.2,542.7L188.0,543.1L187.8,543.5L187.6,543.9L187.3,544.3L187.0,544.7L186.7,545.0L186.3,545.4L185.9,545.7L185.5,546.0L185.0,546.2L184.5,546.4L184.0,546.6L183.3,546.8L182.3,546.6L182.8,547.5L182.8,548.0L182.8,548.6L182.8,549.1L182.7,549.6L182.5,550.0L182.3,550.5L182.1,550.9L181.8,551.3L181.6,551.6L181.2,552.0L180.9,552.3L180.5,552.6L180.1,552.9L179.7,553.1L179.2,553.4L178.7,553.6L178.2,553.7L177.7,553.9L177.1,553.9L176.5,554.0L175.9,554.0L175.2,553.9L174.3,553.5L174.4,554.4L174.3,555.0L174.1,555.4L173.8,555.9L173.5,556.3L173.2,556.7L172.8,557.0L172.4,557.3L172.0,557.6L171.6,557.9L171.2,558.1L170.7,558.3L170.2,558.4L169.7,558.6L169.2,558.7L168.6,558.7L168.1,558.8L167.5,558.8L167.0,558.7L166.4,558.6L165.8,558.5L165.2,558.3L164.6,558.1L163.8,557.4L163.6,558.2L163.2,558.7L162.8,559.1L162.4,559.4L162.0,559.7L161.5,559.9L161.0,560.2L160.5,560.3L160.0,560.5L159.5,560.6L159.0,560.6L158.4,560.7L157.9,560.7L157.4,560.6L156.8,560.6L156.3,560.5L155.7,560.4L155.2,560.2L154.7,560.0L154.1,559.7L153.6,559.4L153.1,559.1L152.6,558.7L152.1,557.9L151.6,558.6L151.0,558.9L150.5,559.1L150.0,559.3L149.4,559.4L148.9,559.5L148.3,559.5L147.8,559.5L147.2,559.5L146.7,559.4L146.1,559.3L145.6,559.2L145.1,559.1L144.6,558.9L144.1,558.7L143.6,558.4L143.1,558.1L142.7,557.8L142.2,557.5L141.8,557.1L141.4,556.7L141.1,556.2L140.8,555.7L140.6,554.8L139.8,555.3L139.2,555.4L138.6,555.4L138.0,555.4L137.4,555.4L136.8,555.3L136.3,555.2L135.7,555.0L135.2,554.8L134.7,554.6L134.2,554.4L133.8,554.1L133.3,553.8L132.9,553.5L132.5,553.1L132.1,552.8L131.8,552.4L131.5,552.0L131.2,551.5L130.9,551.0L130.7,550.6L130.6,550.0L130.5,549.4L130.7,548.6L129.7,548.8L129.0,548.7L128.4,548.6L127.9,548.4L127.3,548.2L126.8,547.9L126.3,547.6L125.9,547.3L125.4,547.0L125.0,546.7L124.7,546.3L124.3,545.9L124.0,545.5L123.7,545.1L123.5,544.7L123.3,544.2L123.1,543.8L123.0,543.3L122.9,542.8L122.8,542.3L122.8,541.8L122.8,541.3L123.0,540.7L123.5,540.0L122.5,539.9L121.9,539.6L121.4,539.3L120.9,539.0L120.4,538.6L120.0,538.2L119.7,537.9L119.4,537.4L119.1,537.0L118.8,536.6L118.6,536.2L118.4,535.7L118.3,535.2L118.2,534.8L118.1,534.3L118.1,533.8L118.1,533.4L118.1,532.9L118.2,532.4L118.4,532.0L118.6,531.5L118.8,531.0L119.2,530.5L120.0,530.1L119.1,529.7L118.6,529.2L118.2,528.8L117.8,528.3L117.6,527.9L117.3,527.4L117.1,527.0L117.0,526.5L116.9,526.0L116.8,525.6L116.8,525.1L116.8,524.6L116.8,524.2L116.9,523.7L117.0,523.3L117.2,522.8L117.4,522.4L117.6,522.0L117.9,521.6L118.2,521.2L118.6,520.8L119.1,520.5L119.6,520.2L120.6,520.0L119.8,519.3L119.5,518.8L119.3,518.3L119.2,517.8L119.1,517.3L119.0,516.8L119.0,516.3L119.1,515.8L119.1,515.4L119.2,514.9L119.4,514.5L119.6,514.1L119.8,513.7L120.1,513.3L120.4,512.9L120.7,512.6L121.1,512.2L121.5,511.9L121.9,511.6L122.4,511.4L122.9,511.2L123.4,511.0L124.1,510.8L125.1,511.0L124.6,510.1L124.6,509.6L124.6,509.0L124.6,508.5L124.7,508.0L124.9,507.6L125.1,507.1L125.3,506.7L125.6,506.3L125.8,506.0L126.2,505.6L126.5,505.3L126.9,505.0L127.3,504.7L127.7,504.5L128.2,504.2L128.7,504.0L129.2,503.9L129.7,503.7L130.3,503.7L130.9,503.6L131.5,503.6L132.2,503.7L133.1,504.1L133.0,503.2L133.1,502.6L133.3,502.2L133.6,501.7L133.9,501.3L134.2,500.9L134.6,500.6L135.0,500.3L135.4,500.0L135.8,499.7L136.2,499.5L136.7,499.3L137.2,499.2L137.7,499.0L138.2,498.9L138.8,498.9L139.3,498.8L139.9,498.8L140.4,498.9L141.0,499.0L141.6,499.1L142.2,499.3L142.8,499.5L143.6,500.2L143.8,499.4L144.2,498.9L144.6,498.5L145.0,498.2L145.4,497.9L145.9,497.7L146.4,497.4L146.9,497.3L147.4,497.1L147.9,497.0L148.4,497.0L149.0,496.9L149.5,496.9L150.0,497.0L150.6,497.0L151.1,497.1L151.7,497.2L152.2,497.4L152.7,497.6L153.3,497.9L153.8,498.2L154.3,498.5L154.8,498.9L155.3,499.7L155.8,499.0L156.4,498.7L156.9,498.5L157.4,498.3L158.0,498.2L158.5,498.1L159.1,498.1L159.6,498.1L160.2,498.1L160.7,498.2L161.3,498.3L161.8,498.4L162.3,498.5L162.8,498.7L163.3,498.9L163.8,499.2L164.3,499.5L164.7,499.8L165.2,500.1L165.6,500.5L166.0,500.9L166.3,501.4L166.6,501.9L166.8,502.8L167.6,502.3L168.2,502.2L168.8,502.2L169.4,502.2L170.0,502.2L170.6,502.3L171.1,502.4L171.7,502.6L172.2,502.8L172.7,503.0L173.2,503.2L173.6,503.5L174.1,503.8L174.5,504.1L174.9,504.5L175.3,504.8L175.6,505.2L175.9,505.6L176.2,506.1L176.5,506.6L176.7,507.0L176.8,507.6L176.9,508.2L176.7,509.0L177.7,508.8L178.4,508.9L179.0,509.0L179.5,509.2L180.1,509.4L180.6,509.7L181.1,510.0L181.5,510.3L182.0,510.6L182.4,510.9L182.7,511.3L183.1,511.7L183.4,512.1L183.7,512.5L183.9,512.9L184.1,513.4L184.3,513.8L184.4,514.3L184.5,514.8L184.6,515.3L184.6,515.8L184.6,516.3L184.4,516.9L183.9,517.6L184.9,517.7L185.5,518.0L186.0,518.3L186.5,518.6L187.0,519.0L187.4,519.4L187.7,519.7L188.0,520.2L188.3,520.6L188.6,521.0L188.8,521.4L189.0,521.9L189.1,522.4L189.2,522.8L189.3,523.3L189.3,523.8L189.3,524.2L189.3,524.7L189.2,525.2L189.0,525.6L188.8,526.1L188.6,526.6L188.2,527.1L187.4,527.5L188.3,527.9L188.8,528.4L189.2,528.8L189.6,529.3L189.8,529.7L190.1,530.2L190.3,530.6L190.4,531.1L190.5,531.6L190.6,532.0L190.6,532.5L190.6,533.0L190.6,533.4L190.5,533.9L190.4,534.3L190.2,534.8L190.0,535.2L189.8,535.6L189.5,536.0L189.2,536.4L188.8,536.8L188.3,537.1L187.8,537.4L186.8,537.6Z" fill="#fff"/><ellipse cx="161.6" cy="534" rx="17.6" ry="14" transform="rotate(27 161.6 534)" fill="#e84e85"/><ellipse cx="90" cy="583" rx="37" ry="29.5" transform="rotate(17 90 583)" fill="#fff"/><ellipse cx="97.5" cy="588.2" rx="17.8" ry="14.4" transform="rotate(27 97.5 588.2)" fill="#e84e85"/><path d="M187.2,659.1L185.9,659.3L184.7,659.5L183.6,659.8L182.6,660.0L181.6,660.2L180.8,660.5L180.0,660.7L179.3,661.0L178.7,661.3L178.2,661.6L177.7,662.0L177.4,662.4L177.2,662.9L177.1,663.4L177.0,663.9L177.0,664.6L177.1,665.3L177.2,666.0L177.4,666.8L177.7,667.7L178.0,668.6L178.3,669.6L178.7,670.7L179.1,671.9L177.8,671.6L176.5,671.3L175.4,671.1L174.3,670.9L173.3,670.7L172.3,670.6L171.5,670.5L170.7,670.5L170.0,670.5L169.3,670.6L168.8,670.8L168.2,671.0L167.8,671.3L167.4,671.7L167.1,672.2L166.8,672.7L166.5,673.4L166.3,674.1L166.1,674.8L165.9,675.7L165.7,676.6L165.5,677.6L165.3,678.7L165.1,679.8L164.0,679.1L162.9,678.4L162.0,677.7L161.0,677.1L160.2,676.6L159.3,676.2L158.6,675.8L157.8,675.4L157.2,675.2L156.5,675.0L155.9,674.9L155.3,674.9L154.7,675.0L154.2,675.2L153.6,675.5L153.0,675.9L152.5,676.3L151.9,676.8L151.3,677.4L150.7,678.0L150.1,678.8L149.4,679.5L148.7,680.4L147.9,681.3L147.3,680.2L146.6,679.2L146.0,678.3L145.4,677.5L144.9,676.7L144.3,676.0L143.8,675.3L143.3,674.8L142.8,674.3L142.2,673.9L141.7,673.6L141.1,673.4L140.5,673.2L139.9,673.2L139.3,673.2L138.6,673.3L137.8,673.5L137.0,673.7L136.2,674.0L135.3,674.3L134.3,674.7L133.3,675.1L132.2,675.6L131.0,676.1L130.9,674.9L130.8,673.8L130.7,672.8L130.6,671.8L130.5,670.9L130.3,670.1L130.1,669.4L129.9,668.7L129.6,668.1L129.3,667.6L129.0,667.1L128.6,666.7L128.1,666.3L127.5,666.1L126.9,665.8L126.2,665.6L125.4,665.5L124.5,665.4L123.6,665.3L122.6,665.2L121.5,665.2L120.3,665.2L119.1,665.2L117.7,665.1L118.2,664.1L118.7,663.1L119.1,662.2L119.4,661.3L119.7,660.5L120.0,659.7L120.2,659.0L120.3,658.4L120.4,657.8L120.4,657.2L120.3,656.6L120.1,656.1L119.8,655.6L119.4,655.2L118.9,654.7L118.4,654.3L117.7,653.9L116.9,653.5L116.1,653.1L115.2,652.6L114.2,652.2L113.1,651.7L111.9,651.2L110.6,650.7L111.6,650.0L112.5,649.3L113.4,648.6L114.2,648.0L114.9,647.5L115.5,646.9L116.0,646.4L116.5,645.8L116.9,645.3L117.1,644.8L117.3,644.3L117.4,643.8L117.4,643.3L117.2,642.8L117.0,642.2L116.6,641.6L116.2,641.0L115.7,640.3L115.2,639.7L114.5,638.9L113.8,638.2L113.0,637.3L112.1,636.5L111.2,635.5L112.5,635.3L113.7,635.1L114.8,634.8L115.8,634.6L116.8,634.4L117.6,634.1L118.4,633.9L119.1,633.6L119.7,633.3L120.2,633.0L120.7,632.6L121.0,632.2L121.2,631.7L121.3,631.2L121.4,630.7L121.4,630.0L121.3,629.3L121.2,628.6L121.0,627.8L120.7,626.9L120.4,626.0L120.1,625.0L119.7,623.9L119.3,622.7L120.6,623.0L121.9,623.3L123.0,623.5L124.1,623.7L125.1,623.9L126.1,624.0L126.9,624.1L127.7,624.1L128.4,624.1L129.1,624.0L129.6,623.8L130.2,623.6L130.6,623.3L131.0,622.9L131.3,622.4L131.6,621.9L131.9,621.2L132.1,620.5L132.3,619.8L132.5,618.9L132.7,618.0L132.9,617.0L133.1,615.9L133.3,614.8L134.4,615.5L135.5,616.2L136.4,616.9L137.4,617.5L138.2,618.0L139.1,618.4L139.8,618.8L140.6,619.2L141.2,619.4L141.9,619.6L142.5,619.7L143.1,619.7L143.7,619.6L144.2,619.4L144.8,619.1L145.4,618.7L145.9,618.3L146.5,617.8L147.1,617.2L147.7,616.6L148.3,615.8L149.0,615.1L149.7,614.2L150.5,613.3L151.1,614.4L151.8,615.4L152.4,616.3L153.0,617.1L153.5,617.9L154.1,618.6L154.6,619.3L155.1,619.8L155.6,620.3L156.2,620.7L156.7,621.0L157.3,621.2L157.9,621.4L158.5,621.4L159.1,621.4L159.8,621.3L160.6,621.1L161.4,620.9L162.2,620.6L163.1,620.3L164.1,619.9L165.1,619.5L166.2,619.0L167.4,618.5L167.5,619.7L167.6,620.8L167.7,621.8L167.8,622.8L167.9,623.7L168.1,624.5L168.3,625.2L168.5,625.9L168.8,626.5L169.1,627.0L169.4,627.5L169.8,627.9L170.3,628.3L170.9,628.5L171.5,628.8L172.2,629.0L173.0,629.1L173.9,629.2L174.8,629.3L175.8,629.4L176.9,629.4L178.1,629.4L179.3,629.4L180.7,629.5L180.2,630.5L179.7,631.5L179.3,632.4L179.0,633.3L178.7,634.1L178.4,634.9L178.2,635.6L178.1,636.2L178.0,636.8L178.0,637.4L178.1,638.0L178.3,638.5L178.6,639.0L179.0,639.4L179.5,639.9L180.0,640.3L180.7,640.7L181.5,641.1L182.3,641.5L183.2,642.0L184.2,642.4L185.3,642.9L186.5,643.4L187.8,643.9L186.8,644.6L185.9,645.3L185.0,646.0L184.2,646.6L183.5,647.1L182.9,647.7L182.4,648.2L181.9,648.8L181.5,649.3L181.3,649.8L181.1,650.3L181.0,650.8L181.0,651.3L181.2,651.8L181.4,652.4L181.8,653.0L182.2,653.6L182.7,654.3L183.2,654.9L183.9,655.7L184.6,656.4L185.4,657.3L186.3,658.1L187.2,659.1Z" fill="#fff"/><ellipse cx="157" cy="651.5" rx="17.6" ry="14.2" transform="rotate(30 157 651.5)" fill="#e84e85"/>
<path d="M150.7,860.2 Q218.6,883.6 285.5,858.5 Q258.5,925.1 286.6,992.2 Q218.6,970.2 151.8,993.3 Q176.6,926.5 150.7,860.2Z" fill="#fff" stroke="#fff" stroke-width="2.5" stroke-linejoin="round"/><ellipse cx="167.1" cy="878.6" rx="6.6" ry="7.6" transform="rotate(0 167.1 878.6)" fill="#e84e85"/><ellipse cx="188.0" cy="891.7" rx="6.6" ry="7.6" transform="rotate(37 188.0 891.7)" fill="#e84e85"/><ellipse cx="220.9" cy="888.1" rx="6.6" ry="7.6" transform="rotate(74 220.9 888.1)" fill="#e84e85"/><ellipse cx="257.6" cy="884.2" rx="6.6" ry="7.6" transform="rotate(111 257.6 884.2)" fill="#e84e85"/><ellipse cx="183.8" cy="919.5" rx="6.6" ry="7.6" transform="rotate(148 183.8 919.5)" fill="#e84e85"/><ellipse cx="231.2" cy="916.7" rx="6.6" ry="7.6" transform="rotate(5 231.2 916.7)" fill="#e84e85"/><ellipse cx="258.5" cy="915.9" rx="6.6" ry="7.6" transform="rotate(42 258.5 915.9)" fill="#e84e85"/><ellipse cx="212.5" cy="934.8" rx="6.6" ry="7.6" transform="rotate(79 212.5 934.8)" fill="#e84e85"/><ellipse cx="181.0" cy="946.5" rx="6.6" ry="7.6" transform="rotate(116 181.0 946.5)" fill="#e84e85"/><ellipse cx="240.9" cy="955.7" rx="6.6" ry="7.6" transform="rotate(153 240.9 955.7)" fill="#e84e85"/><ellipse cx="266.8" cy="965.5" rx="6.6" ry="7.6" transform="rotate(10 266.8 965.5)" fill="#e84e85"/><ellipse cx="210.8" cy="968.3" rx="6.6" ry="7.6" transform="rotate(47 210.8 968.3)" fill="#e84e85"/><ellipse cx="169.3" cy="978.0" rx="6.6" ry="7.6" transform="rotate(84 169.3 978.0)" fill="#e84e85"/>
<polygon points="695.3,989.6 866.1,972.1 838.2,1043.6 632.7,1035.0" fill="#fff" stroke="#fff" stroke-width="1.5" stroke-linejoin="round"/><polygon points="728.6,948.3 850.2,945.1 828.0,988.0 674.0,981.0" fill="#e84e85" stroke="#e84e85" stroke-width="14" stroke-linejoin="miter"/><polygon points="728.6,948.3 850.2,945.1 828.0,988.0 674.0,981.0" fill="#fff" stroke="#fff" stroke-width="1.5" stroke-linejoin="round"/><polygon points="742.9,917.5 838.2,917.5 819.1,945.1 700.0,937.8" fill="#e84e85" stroke="#e84e85" stroke-width="11" stroke-linejoin="miter"/><polygon points="742.9,917.5 838.2,917.5 819.1,945.1 700.0,937.8" fill="#fff" stroke="#fff" stroke-width="1.5" stroke-linejoin="round"/><polygon points="754.0,892.7 828.6,896.9 811.2,914.0 716.9,908.6" fill="#e84e85" stroke="#e84e85" stroke-width="10" stroke-linejoin="miter"/><polygon points="754.0,892.7 828.6,896.9 811.2,914.0 716.9,908.6" fill="#fff" stroke="#fff" stroke-width="1.5" stroke-linejoin="round"/>
<g transform="translate(1260,485) scale(0.17493)" fill="none" stroke-linecap="round" stroke-linejoin="round"><path d="M415,332 C380,300 330,305 262,310 C200,318 165,360 165,410 C165,450 195,500 245,522" stroke="#fff" stroke-width="56"/><path d="M245,522 C300,545 350,560 364,610 C372,650 330,680 275,700" stroke="#fff" stroke-width="46"/><path d="M275,700 C230,720 196,745 196,785 C196,820 230,845 265,860" stroke="#fff" stroke-width="38"/><path d="M265,860 C310,875 340,895 340,925 C340,955 305,975 270,990" stroke="#fff" stroke-width="30"/><path d="M270,990 C240,1004 222,1020 214,1040" stroke="#fff" stroke-width="20"/><path d="M214,1040 L208,1056" stroke="#fff" stroke-width="10"/><path d="M246,215 L305,215 L286,1120 L277,1127 L268,1120 Z" fill="#fff" stroke="#833594" stroke-width="24"/><path d="M246,215 L305,215 L286,1120 L277,1127 L268,1120 Z" fill="#fff" stroke="none"/><path d="M345,306 C310,306 290,308 262,310 C230,314 205,325 190,345" stroke="#833594" stroke-width="78" stroke-linecap="butt"/><path d="M352,655 C335,675 305,688 275,700 C245,712 220,728 208,748" stroke="#833594" stroke-width="64" stroke-linecap="butt"/><path d="M330,955 C315,970 295,980 270,990 C250,999 235,1010 225,1022" stroke="#833594" stroke-width="46" stroke-linecap="butt"/><path d="M345,306 C310,306 290,308 262,310 C230,314 205,325 190,345" stroke="#fff" stroke-width="56"/><path d="M352,655 C335,675 305,688 275,700 C245,712 220,728 208,748" stroke="#fff" stroke-width="42"/><path d="M330,955 C315,970 295,980 270,990 C250,999 235,1010 225,1022" stroke="#fff" stroke-width="24"/><path d="M350,285 C395,280 430,300 445,345 C448,360 440,370 425,370 C395,372 360,362 335,345 Z" fill="#fff" stroke="none"/><circle cx="395" cy="320" r="6" fill="#833594" stroke="none"/><path d="M445,368 L462,382 L482,388 M462,382 L470,392" stroke="#fff" stroke-width="5"/><circle cx="277" cy="120" r="55" fill="#fff" stroke="none"/><path d="M210,166 C225,215 330,215 344,166 C325,195 230,195 210,166 Z" fill="#fff" stroke="#fff" stroke-width="4"/></g>
</svg>
<div class="t" style="left:355.2px;top:194.9px;font-size:38px;letter-spacing:0.05px">Expanding</div>
<div class="t" style="left:356.2px;top:242.2px;font-size:38px;letter-spacing:0.3px">healthy</div>
<div class="t" style="left:355.0px;top:289.5px;font-size:38px;letter-spacing:0.57px">references</div>
<div class="t" style="left:830.5px;top:170.5px;font-size:38px;letter-spacing:0.24px">Comprehensive</div>
<div class="t" style="left:830.5px;top:217.6px;font-size:38px;letter-spacing:0.3px">collection</div>
<div class="t" style="left:217.3px;top:524.3px;font-size:38px;letter-spacing:0.3px">Fine</div>
<div class="t" style="left:216.5px;top:571.6px;font-size:38px;letter-spacing:0.37px">mapping of</div>
<div class="t" style="left:217.3px;top:618.9px;font-size:38px;letter-spacing:0.3px">cell states</div>
<div class="t" style="left:298.3px;top:837.4px;font-size:38px;letter-spacing:0.14px">Subcellular</div>
<div class="t" style="left:298.3px;top:884.3px;font-size:38px;letter-spacing:0.15px">resolution</div>
<div class="t" style="left:298.3px;top:931.2px;font-size:38px;letter-spacing:0.15px">spatial</div>
<div class="t" style="left:298.3px;top:978.1px;font-size:38px;letter-spacing:0.18px">technologies</div>
<div class="t" style="left:883.2px;top:880.0px;font-size:38px;letter-spacing:0.3px">High</div>
<div class="t" style="left:883.2px;top:927.1px;font-size:38px;letter-spacing:0.27px">dimensional</div>
<div class="t" style="left:883.2px;top:974.2px;font-size:38px;letter-spacing:0.4px">assay</div>
<div class="t" style="left:883.2px;top:1021.3px;font-size:38px;letter-spacing:0.54px">integration</div>
<div class="t" style="left:1372.3px;top:508.2px;font-size:48px;letter-spacing:0.78px">Accelerated</div>
<div class="t" style="left:1373.8px;top:567.2px;font-size:48px;letter-spacing:0.4px">clinical</div>
<div class="t" style="left:1373.8px;top:626.3px;font-size:48px;letter-spacing:0.07px">translation</div>
<div class="t" style="left:483.8px;width:800px;text-align:center;top:459.8px;font-size:43px;letter-spacing:0.56px">Cancer atlases</div>
<div class="t" style="left:483.6px;width:800px;text-align:center;top:513.8px;font-size:43px;letter-spacing:0.3px">across major</div>
<div class="t" style="left:483.6px;width:800px;text-align:center;top:567.8px;font-size:43px;letter-spacing:0.3px">cancer types,</div>
<div class="t" style="left:483.5px;width:800px;text-align:center;top:621.8px;font-size:43px;letter-spacing:0.02px">population groups,</div>
<div class="t" style="left:483.7px;width:800px;text-align:center;top:675.8px;font-size:43px;letter-spacing:0.39px">treatment groups</div>
</body></html>
